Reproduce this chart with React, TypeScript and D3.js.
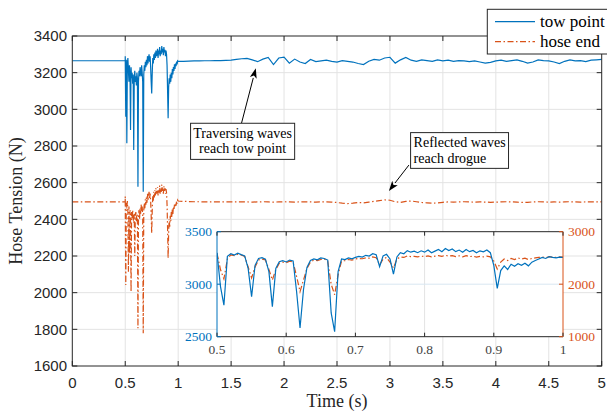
import React from "react";
import * as d3 from "d3";

const W = 607;
const H = 413;

// steady values before the burst (t = 0 .. 0.5 s)
const steadyTimes = [0, 0.5];
const towSteady = [3265, 3265];
const hoseSteady = [2495, 2495];

// burst, sampled every 5 ms from 0.5 s to 1.0 s
const burstStart = 0.5;
const burstStep = 0.005;
const towBurst = [
  3290, 2960, 3270, 2815, 3250, 3280, 3210, 3150, 3240, 3190,
  2887, 3230, 3170, 3200, 3140, 3190, 2778, 3160, 3210, 3150,
  3180, 3130, 3200, 3170, 2578, 3150, 3210, 3180, 3230, 3200,
  3180, 3240, 3200, 3150, 2551, 3190, 3240, 3210, 3260, 3230,
  3270, 3240, 3290, 3250, 3280, 3300, 3260, 3290, 3230, 3150,
  3087, 3200, 3280, 3250, 3300, 3270, 3310, 3280, 3320, 3290,
  3300, 3330, 3280, 3320, 3300, 3340, 3290, 3320, 3300, 3345,
  3310, 3330, 3295, 3340, 3310, 3325, 3290, 3320, 3300, 3240,
  3100, 2951, 3120, 3170, 3140, 3190, 3150, 3200, 3170, 3220,
  3190, 3230, 3210, 3245, 3220, 3250, 3235, 3260, 3245, 3265,
  3262,
];
const hoseBurst = [
  2525, 2042, 2490, 2460, 2500, 2440, 2114, 2470, 2216, 2450,
  2420, 2005, 2440, 2400, 2450, 2410, 2380, 2430, 2200, 2420,
  2440, 2390, 2430, 2410, 1806, 2420, 2450, 2400, 2460, 2430,
  2480, 2440, 2470, 2420, 1779, 2450, 2490, 2460, 2510, 2480,
  2520, 2490, 2540, 2500, 2530, 2550, 2510, 2540, 2500, 2420,
  2324, 2450, 2530, 2500, 2550, 2520, 2560, 2530, 2570, 2540,
  2550, 2575, 2530, 2565, 2545, 2585, 2540, 2570, 2550, 2590,
  2555, 2575, 2540, 2580, 2555, 2570, 2540, 2565, 2545, 2480,
  2350, 2188, 2330, 2400, 2360, 2420, 2390, 2440, 2410, 2460,
  2430, 2470, 2450, 2480, 2465, 2490, 2475, 2500, 2485, 2505,
  2500,
];

// after the burst, sampled every 50 ms from 1.05 s to 5.0 s
const tailStart = 1.05;
const tailStep = 0.05;
const towTail = [
  3262, 3263, 3264, 3264, 3265, 3265, 3266, 3266, 3267, 3268,
  3272, 3276, 3278, 3270, 3260, 3274, 3283, 3244, 3280, 3285,
  3252, 3274, 3258, 3250, 3272, 3260, 3264, 3268, 3262, 3258,
  3266, 3262, 3258, 3250, 3244, 3262, 3272, 3268, 3280, 3284,
  3252, 3270, 3283, 3268, 3262, 3270, 3266, 3262, 3270, 3264,
  3268, 3262, 3266, 3264, 3260, 3264, 3258, 3252, 3256, 3264,
  3268, 3262, 3266, 3270, 3262, 3252, 3258, 3270, 3266, 3264,
  3258, 3250, 3262, 3270, 3264, 3266, 3260, 3268, 3270, 3272,
];
const hoseTail = [
  2498, 2497, 2496, 2496, 2495, 2495, 2495, 2495, 2495, 2495,
  2495, 2496, 2495, 2494, 2495, 2496, 2495, 2494, 2495, 2496,
  2495, 2494, 2495, 2496, 2495, 2494, 2495, 2495, 2494, 2492,
  2488, 2486, 2488, 2492, 2490, 2494, 2498, 2502, 2506, 2504,
  2496, 2492, 2498, 2500, 2496, 2492, 2490, 2488, 2490, 2493,
  2495, 2494, 2495, 2496, 2495, 2494, 2495, 2494, 2493, 2494,
  2495, 2496, 2495, 2494, 2492, 2493, 2495, 2496, 2495, 2494,
  2495, 2494, 2495, 2496, 2495, 2494, 2495, 2496, 2495, 2496,
];

// inset (zoom on 0.5 - 1.0 s), sampled every 5 ms
const insetStart = 0.5;
const insetStep = 0.005;
const insetTow = [
  3300, 2980, 2800, 3265, 3290, 3278, 3296, 3282, 3270, 3150,
  2880, 3180, 3245, 3252, 3238, 3120, 2786, 3150, 3215, 3225,
  3212, 3230, 3222, 2930, 2583, 2950, 3160, 3225, 3240, 3232,
  3250, 3245, 3230, 2726, 2548, 3120, 3240, 3235, 3250, 3242,
  3255, 3265, 3258, 3275, 3268, 3290, 3280, 3167, 3270, 3285,
  3240, 3097, 3260, 3300, 3290, 3320, 3305, 3315, 3300, 3318,
  3305, 3325, 3300, 3315, 3330, 3310, 3340, 3320, 3335, 3310,
  3325, 3305, 3330, 3310, 3322, 3300, 3318, 3308, 3325, 3300,
  3180, 2960, 3130, 3175, 3140, 3190, 3170, 3195, 3180, 3200,
  3175, 3210, 3225, 3240, 3255, 3245, 3262, 3255, 3250, 3258,
  3255,
];
const insetHose = [
  2590, 2280, 2100, 2480, 2560, 2545, 2570, 2555, 2530, 2330,
  2120, 2330, 2460, 2480, 2460, 2280, 2080, 2280, 2400, 2420,
  2410, 2440, 2420, 2150, 1860, 2080, 2300, 2420, 2460, 2450,
  2470, 2480, 2440, 2000, 1800, 2180, 2440, 2450, 2470, 2460,
  2480, 2490, 2485, 2500, 2495, 2520, 2505, 2370, 2480, 2510,
  2420, 2310, 2480, 2520, 2510, 2540, 2525, 2530, 2520, 2535,
  2525, 2540, 2520, 2535, 2545, 2530, 2550, 2535, 2545, 2525,
  2540, 2520, 2545, 2525, 2535, 2515, 2530, 2520, 2535, 2520,
  2440, 2290, 2420, 2480, 2450, 2490, 2470, 2500, 2480, 2495,
  2470, 2490, 2500, 2510, 2520, 2505, 2525, 2515, 2510, 2520,
  2515,
];

const xTicks = [0, 0.5, 1, 1.5, 2, 2.5, 3, 3.5, 4, 4.5, 5];
const yTicks = [1600, 1800, 2000, 2200, 2400, 2600, 2800, 3000, 3200, 3400];
const insetXTicks = [0.5, 0.6, 0.7, 0.8, 0.9, 1];
const insetTowTicks = [2500, 3000, 3500];
const insetHoseTicks = [1000, 2000, 3000];

const BLUE = "#0072BD";
const ORANGE = "#D95319";
const AX = "#262626";
const GRID = "#e3e3e3";
const SERIF = "'Liberation Serif', 'Times New Roman', serif";
const SANS = "'Liberation Sans', Arial, sans-serif";
const DASHDOT = "6 2.5 1.5 2.5";

type Pt = [number, number];

const sampled = (start: number, step: number, vals: number[]): Pt[] =>
  vals.map((v, i) => [start + i * step, v]);

const towMain: Pt[] = [
  ...steadyTimes.map((t, i) => [t, towSteady[i]] as Pt),
  ...sampled(burstStart, burstStep, towBurst),
  ...sampled(tailStart, tailStep, towTail),
];
const hoseMain: Pt[] = [
  ...steadyTimes.map((t, i) => [t, hoseSteady[i]] as Pt),
  ...sampled(burstStart, burstStep, hoseBurst),
  ...sampled(tailStart, tailStep, hoseTail),
];

const Arrow = ({ from, to }: { from: Pt; to: Pt }) => {
  const dx = to[0] - from[0];
  const dy = to[1] - from[1];
  const len = Math.hypot(dx, dy);
  const ux = dx / len;
  const uy = dy / len;
  const hl = 10;
  const hw = 3.5;
  const bx = to[0] - ux * hl;
  const by = to[1] - uy * hl;
  const head = [
    [to[0], to[1]],
    [bx - uy * hw, by + ux * hw],
    [bx + ux * 2.5, by + uy * 2.5],
    [bx + uy * hw, by - ux * hw],
  ]
    .map((p) => p.join(","))
    .join(" ");
  return (
    <g>
      <line x1={from[0]} y1={from[1]} x2={bx} y2={by} stroke="#000" strokeWidth={1} />
      <polygon points={head} fill="#000" />
    </g>
  );
};

export default function App() {
  const m = { left: 72.3, right: 601.7, top: 36, bottom: 366 };
  const x = d3.scaleLinear().domain([0, 5]).range([m.left, m.right]);
  const y = d3.scaleLinear().domain([1600, 3400]).range([m.bottom, m.top]);

  const ins = { left: 217, right: 563, top: 231.7, bottom: 336.7 };
  const ix = d3.scaleLinear().domain([0.5, 1]).range([ins.left, ins.right]);
  const iyL = d3.scaleLinear().domain([2500, 3500]).range([ins.bottom, ins.top]);
  const iyR = d3.scaleLinear().domain([1000, 3000]).range([ins.bottom, ins.top]);

  const lineMain = d3
    .line<Pt>()
    .x((d) => x(d[0]))
    .y((d) => y(d[1]));
  const lineTow = d3
    .line<Pt>()
    .x((d) => ix(d[0]))
    .y((d) => iyL(d[1]));
  const lineHose = d3
    .line<Pt>()
    .x((d) => ix(d[0]))
    .y((d) => iyR(d[1]));

  const insTow = sampled(insetStart, insetStep, insetTow);
  const insHose = sampled(insetStart, insetStep, insetHose);

  const tk = 5;
  const itk = 4;

  // annotation boxes, in data units
  const note1 = { t0: 1.117, t1: 2.1, v0: 2924, v1: 2727 };
  const note2 = { t0: 3.195, t1: 4.12, v0: 2873, v1: 2678 };

  return (
    <svg
      width={W}
      height={H}
      style={{ position: "absolute", left: 0, top: 0, background: "#fff" }}
    >
      <defs>
        <clipPath id="mainClip">
          <rect x={m.left} y={m.top} width={m.right - m.left} height={m.bottom - m.top} />
        </clipPath>
        <clipPath id="insClip">
          <rect x={ins.left} y={ins.top} width={ins.right - ins.left} height={ins.bottom - ins.top} />
        </clipPath>
      </defs>
      <rect width={W} height={H} fill="#fff" />

      {/* main grid */}
      {xTicks.slice(1, -1).map((t) => (
        <line key={"gx" + t} x1={x(t)} x2={x(t)} y1={m.top} y2={m.bottom} stroke={GRID} />
      ))}
      {yTicks.slice(1, -1).map((v) => (
        <line key={"gy" + v} x1={m.left} x2={m.right} y1={y(v)} y2={y(v)} stroke={GRID} />
      ))}

      {/* main series */}
      <g clipPath="url(#mainClip)">
        <path d={lineMain(hoseMain) || ""} fill="none" stroke={ORANGE} strokeWidth={1.2} strokeDasharray={DASHDOT} />
        <path d={lineMain(towMain) || ""} fill="none" stroke={BLUE} strokeWidth={1.2} />
      </g>

      {/* main axes box and ticks */}
      <rect x={m.left} y={m.top} width={m.right - m.left} height={m.bottom - m.top} fill="none" stroke={AX} strokeWidth={1} />
      {xTicks.map((t) => (
        <g key={"xt" + t}>
          <line x1={x(t)} x2={x(t)} y1={m.bottom} y2={m.bottom - tk} stroke={AX} />
          <line x1={x(t)} x2={x(t)} y1={m.top} y2={m.top + tk} stroke={AX} />
          <text x={x(t)} y={388} textAnchor="middle" fontFamily={SANS} fontSize={15} fill={AX}>
            {t}
          </text>
        </g>
      ))}
      {yTicks.map((v) => (
        <g key={"yt" + v}>
          <line x1={m.left} x2={m.left + tk} y1={y(v)} y2={y(v)} stroke={AX} />
          <line x1={m.right} x2={m.right - tk} y1={y(v)} y2={y(v)} stroke={AX} />
          <text x={67} y={y(v) + 5.3} textAnchor="end" fontFamily={SANS} fontSize={15} fill={AX}>
            {v}
          </text>
        </g>
      ))}
      <text
        transform={`translate(22,${(m.top + m.bottom) / 2}) rotate(-90)`}
        textAnchor="middle"
        fontFamily={SERIF}
        fontSize={18}
        fill={AX}
      >
        Hose Tension (N)
      </text>
      <text x={(m.left + m.right) / 2} y={407} textAnchor="middle" fontFamily={SERIF} fontSize={18} fill={AX}>
        Time (s)
      </text>

      {/* annotations */}
      <Arrow from={[x(1.598), y(2924)]} to={[x(1.733), y(3224)]} />
      <rect
        x={x(note1.t0)}
        y={y(note1.v0)}
        width={x(note1.t1) - x(note1.t0)}
        height={y(note1.v1) - y(note1.v0)}
        fill="#fff"
        stroke={AX}
      />
      <text x={(x(note1.t0) + x(note1.t1)) / 2} y={y(note1.v0) + 15} textAnchor="middle" fontFamily={SERIF} fontSize={14} fill="#000">
        Traversing waves
      </text>
      <text x={(x(note1.t0) + x(note1.t1)) / 2} y={y(note1.v0) + 30} textAnchor="middle" fontFamily={SERIF} fontSize={14} fill="#000">
        reach tow point
      </text>

      <Arrow from={[x(3.179), y(2696)]} to={[x(2.99), y(2555)]} />
      <rect
        x={x(note2.t0)}
        y={y(note2.v0)}
        width={x(note2.t1) - x(note2.t0)}
        height={y(note2.v1) - y(note2.v0)}
        fill="#fff"
        stroke={AX}
      />
      <text x={x(note2.t0) + 3} y={y(note2.v0) + 14} fontFamily={SERIF} fontSize={14} fill="#000">
        Reflected waves
      </text>
      <text x={x(note2.t0) + 3} y={y(note2.v0) + 30} fontFamily={SERIF} fontSize={14} fill="#000">
        reach drogue
      </text>

      {/* inset */}
      <rect x={ins.left} y={ins.top} width={ins.right - ins.left} height={ins.bottom - ins.top} fill="#fff" />
      {insetXTicks.slice(1, -1).map((t) => (
        <line key={"igx" + t} x1={ix(t)} x2={ix(t)} y1={ins.top} y2={ins.bottom} stroke={GRID} />
      ))}
      <line x1={ins.left} x2={ins.right} y1={iyL(3000)} y2={iyL(3000)} stroke="#d8e6f1" />
      <g clipPath="url(#insClip)">
        <path d={lineHose(insHose) || ""} fill="none" stroke={ORANGE} strokeWidth={1.2} strokeDasharray={DASHDOT} />
        <path d={lineTow(insTow) || ""} fill="none" stroke={BLUE} strokeWidth={1.2} />
      </g>
      <line x1={ins.left} x2={ins.right} y1={ins.top} y2={ins.top} stroke={AX} />
      <line x1={ins.left} x2={ins.right} y1={ins.bottom} y2={ins.bottom} stroke={AX} />
      <line x1={ins.left} x2={ins.left} y1={ins.top} y2={ins.bottom} stroke={BLUE} />
      <line x1={ins.right} x2={ins.right} y1={ins.top} y2={ins.bottom} stroke={ORANGE} />
      {insetXTicks.map((t) => (
        <g key={"ixt" + t}>
          <line x1={ix(t)} x2={ix(t)} y1={ins.bottom} y2={ins.bottom - itk} stroke={AX} />
          <line x1={ix(t)} x2={ix(t)} y1={ins.top} y2={ins.top + itk} stroke={AX} />
          <text x={ix(t)} y={354} textAnchor="middle" fontFamily={SERIF} fontSize={13.5} fill="#444">
            {t}
          </text>
        </g>
      ))}
      {insetTowTicks.map((v) => (
        <g key={"itl" + v}>
          <line x1={ins.left} x2={ins.left + itk} y1={iyL(v)} y2={iyL(v)} stroke={BLUE} />
          <text x={212} y={iyL(v) + 4.5} textAnchor="end" fontFamily={SERIF} fontSize={13.5} fill={BLUE}>
            {v}
          </text>
        </g>
      ))}
      {insetHoseTicks.map((v) => (
        <g key={"itr" + v}>
          <line x1={ins.right} x2={ins.right - itk} y1={iyR(v)} y2={iyR(v)} stroke={ORANGE} />
          <text x={568} y={iyR(v) + 4.5} fontFamily={SERIF} fontSize={13.5} fill={ORANGE}>
            {v}
          </text>
        </g>
      ))}

      {/* legend */}
      <rect x={487.3} y={9.3} width={130} height={44.7} fill="#fff" stroke={AX} />
      <line x1={495} x2={535} y1={21.7} y2={21.7} stroke={BLUE} strokeWidth={1.2} />
      <line x1={495} x2={535} y1={41.7} y2={41.7} stroke={ORANGE} strokeWidth={1.2} strokeDasharray={DASHDOT} />
      <text x={540} y={26.5} fontFamily={SERIF} fontSize={17} fill="#000">
        tow point
      </text>
      <text x={540} y={46.5} fontFamily={SERIF} fontSize={17} fill="#000">
        hose end
      </text>
    </svg>
  );
}
